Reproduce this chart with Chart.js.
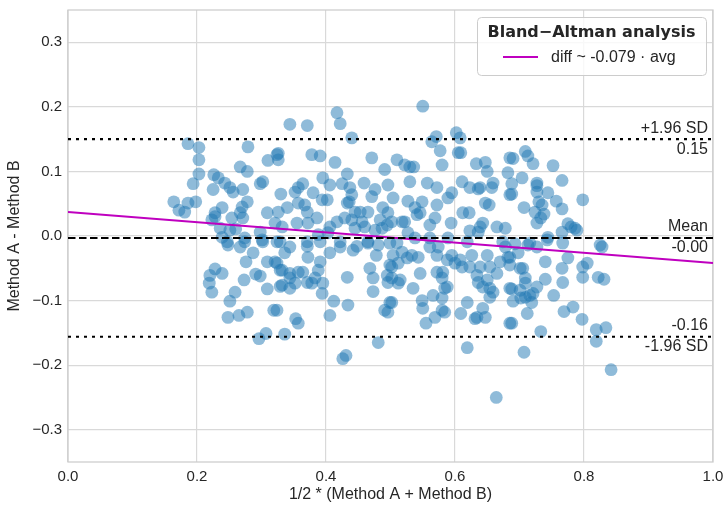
<!DOCTYPE html>
<html>
<head>
<meta charset="utf-8">
<title>Bland-Altman</title>
<script src="https://cdn.jsdelivr.net/npm/chart.js@4.4.1/dist/chart.umd.min.js"></script>
<style>
    html, body { margin: 0; padding: 0; background: #fff; }
    #wrap { width: 727px; height: 505px; }
</style>
</head>
<body>
<div id="wrap"><canvas id="baChart" width="727" height="505"></canvas></div>
<script>
// mean of the two methods (x) and their difference (y)
const avgValues = [
    0.186, 0.203, 0.203, 0.203, 0.194, 0.164, 0.172, 0.181, 0.186, 0.198,
    0.279, 0.310, 0.324, 0.267, 0.278, 0.226, 0.233, 0.225, 0.243, 0.251,
    0.256, 0.271, 0.298, 0.302, 0.278, 0.270, 0.239, 0.228, 0.228, 0.223,
    0.254, 0.267, 0.271, 0.309, 0.326, 0.321, 0.236, 0.251, 0.260, 0.298,
    0.239, 0.247, 0.274, 0.301, 0.324, 0.330, 0.248, 0.267, 0.274, 0.302,
    0.287, 0.276, 0.309, 0.321, 0.329, 0.228, 0.220, 0.239, 0.219, 0.223,
    0.259, 0.273, 0.291, 0.298, 0.309, 0.329, 0.251, 0.248, 0.265, 0.278,
    0.319, 0.307, 0.296,
    0.417, 0.422, 0.344, 0.371, 0.440, 0.326, 0.326, 0.378, 0.391, 0.414,
    0.471, 0.491, 0.433, 0.395, 0.364, 0.357, 0.352, 0.406, 0.425, 0.437,
    0.440, 0.459, 0.476, 0.471, 0.496, 0.380, 0.394, 0.402, 0.433, 0.436,
    0.357, 0.367, 0.371, 0.340, 0.488, 0.504, 0.386, 0.372, 0.355, 0.332,
    0.406, 0.417, 0.429, 0.445, 0.453, 0.465, 0.440, 0.456, 0.460, 0.484,
    0.496, 0.476, 0.487, 0.495, 0.502, 0.445, 0.388, 0.403, 0.422, 0.465,
    0.371, 0.329, 0.344, 0.336, 0.371, 0.391, 0.372, 0.406, 0.422, 0.442,
    0.448, 0.465, 0.481, 0.499, 0.478, 0.504, 0.324, 0.332, 0.344, 0.357,
    0.364, 0.388, 0.391, 0.344, 0.332, 0.344, 0.352, 0.371, 0.378, 0.383,
    0.395, 0.394, 0.433, 0.468, 0.473, 0.495, 0.496, 0.499, 0.473, 0.499,
    0.491, 0.496, 0.412, 0.434, 0.406, 0.324, 0.353, 0.357, 0.336, 0.481,
    0.426, 0.431,
    0.550, 0.571, 0.564, 0.577, 0.602, 0.608, 0.605, 0.609, 0.580, 0.510,
    0.522, 0.530, 0.536, 0.633, 0.647, 0.650, 0.682, 0.685, 0.530, 0.557,
    0.572, 0.611, 0.623, 0.636, 0.639, 0.659, 0.657, 0.527, 0.549, 0.538,
    0.541, 0.546, 0.572, 0.595, 0.589, 0.647, 0.653, 0.685, 0.612, 0.622,
    0.518, 0.522, 0.561, 0.569, 0.594, 0.643, 0.639, 0.636, 0.623, 0.665,
    0.678, 0.527, 0.538, 0.561, 0.589, 0.619, 0.674, 0.510, 0.518, 0.526,
    0.533, 0.543, 0.512, 0.502, 0.561, 0.574, 0.572, 0.588, 0.595, 0.600,
    0.608, 0.611, 0.623, 0.626, 0.639, 0.650, 0.654, 0.670, 0.665, 0.682,
    0.546, 0.572, 0.581, 0.580, 0.634, 0.636, 0.650, 0.643, 0.654, 0.659,
    0.654, 0.515, 0.502, 0.512, 0.584, 0.588, 0.535, 0.566, 0.580, 0.549,
    0.502, 0.550, 0.580, 0.584, 0.619, 0.609, 0.643, 0.631, 0.647, 0.634,
    0.569, 0.555, 0.685, 0.619, 0.664, 0.685,
    0.709, 0.713, 0.721, 0.690, 0.752, 0.704, 0.688, 0.688, 0.727, 0.727,
    0.727, 0.744, 0.766, 0.757, 0.730, 0.735, 0.707, 0.766, 0.724, 0.738,
    0.733, 0.727, 0.798, 0.775, 0.780, 0.786, 0.789, 0.766, 0.744, 0.743,
    0.693, 0.716, 0.767, 0.825, 0.678, 0.698, 0.685, 0.685, 0.701, 0.705,
    0.713, 0.727, 0.775, 0.740, 0.766, 0.798, 0.805, 0.798, 0.828, 0.822,
    0.831, 0.709, 0.709, 0.688, 0.701, 0.727, 0.721, 0.740, 0.767, 0.716,
    0.709, 0.690, 0.719, 0.702, 0.753, 0.769, 0.783, 0.797, 0.712, 0.688,
    0.733, 0.819, 0.834, 0.819, 0.707, 0.842
];
const diffValues = [
    0.143, 0.137, 0.118, 0.096, 0.081, 0.053, 0.040, 0.037, 0.051, 0.053,
    0.138, 0.117, 0.126, 0.107, 0.100, 0.095, 0.090, 0.072, 0.082, 0.075,
    0.068, 0.072, 0.081, 0.084, 0.053, 0.045, 0.044, 0.036, 0.030, 0.025,
    0.028, 0.036, 0.028, 0.036, 0.037, 0.020, 0.012, 0.009, 0.011, 0.006,
    -0.002, -0.009, -0.003, -0.006, -0.009, 0.065, -0.014, -0.017, -0.009, -0.009,
    -0.026, -0.040, -0.040, -0.040, -0.053, -0.051, -0.061, -0.058, -0.073, -0.087,
    -0.087, -0.068, -0.059, -0.062, -0.082, -0.078, -0.101, -0.126, -0.123, -0.118,
    -0.115, -0.151, -0.159,
    0.191, 0.174, 0.173, 0.171, 0.152, 0.128, 0.118, 0.126, 0.124, 0.114,
    0.121, 0.103, 0.096, 0.090, 0.081, 0.075, 0.068, 0.079, 0.081, 0.075,
    0.064, 0.082, 0.072, 0.061, 0.079, 0.067, 0.056, 0.056, 0.051, 0.053,
    0.051, 0.048, 0.037, 0.044, 0.044, 0.059, 0.028, 0.020, 0.020, 0.014,
    0.014, 0.022, 0.028, 0.037, 0.037, 0.037, 0.025, 0.022, 0.014, 0.025,
    0.036, 0.009, 0.012, 0.017, 0.022, 0.012, 0.002, 0.005, -0.009, -0.009,
    -0.009, -0.009, -0.017, -0.026, -0.016, -0.009, -0.033, -0.026, -0.017, -0.022,
    -0.016, -0.011, -0.014, -0.011, -0.030, -0.030, -0.042, -0.053, -0.058, -0.056,
    -0.056, -0.053, -0.040, -0.065, -0.076, -0.081, -0.073, -0.072, -0.073, -0.065,
    -0.073, -0.089, -0.064, -0.050, -0.065, -0.061, -0.072, -0.045, -0.086, -0.103,
    -0.115, -0.118, -0.101, -0.107, -0.123, -0.115, -0.128, -0.135, -0.152, -0.165,
    -0.190, -0.185,
    0.201, 0.154, 0.146, 0.132, 0.160, 0.152, 0.129, 0.129, 0.110, 0.118,
    0.110, 0.107, 0.107, 0.112, 0.114, 0.100, 0.098, 0.121, 0.084, 0.082,
    0.075, 0.084, 0.075, 0.073, 0.075, 0.082, 0.075, 0.054, 0.053, 0.044,
    0.033, 0.036, 0.048, 0.067, 0.059, 0.051, 0.048, 0.064, 0.036, 0.036,
    0.022, 0.022, 0.017, 0.028, 0.020, 0.020, 0.014, 0.006, 0.008, 0.014,
    0.012, 0.005, -0.003, -0.003, -0.003, -0.009, -0.009, -0.011, -0.025, -0.034,
    -0.030, -0.033, -0.042, -0.048, -0.017, -0.017, -0.030, -0.037, -0.030, -0.042,
    -0.037, -0.048, -0.048, -0.030, -0.048, -0.030, -0.048, -0.040, -0.058, -0.033,
    -0.058, -0.056, -0.056, -0.065, -0.061, -0.072, -0.068, -0.079, -0.081, -0.087,
    -0.095, -0.068, -0.065, -0.073, -0.081, -0.079, -0.081, -0.092, -0.096, -0.100,
    -0.103, -0.112, -0.115, -0.118, -0.103, -0.120, -0.112, -0.128, -0.126, -0.126,
    -0.126, -0.135, -0.135, -0.173, -0.250, -0.081,
    0.131, 0.124, 0.112, 0.120, 0.109, 0.090, 0.081, 0.065, 0.082, 0.078,
    0.068, 0.067, 0.086, 0.054, 0.053, 0.048, 0.044, 0.042, 0.037, 0.034,
    0.028, 0.020, 0.056, 0.019, 0.014, 0.012, 0.009, 0.006, -0.002, -0.006,
    -0.012, -0.011, -0.011, -0.014, -0.017, -0.026, -0.033, -0.045, -0.050, -0.050,
    -0.014, -0.017, -0.034, -0.040, -0.050, -0.048, -0.042, -0.064, -0.017, -0.064,
    -0.067, -0.065, -0.073, -0.082, -0.084, -0.079, -0.089, -0.067, -0.072, -0.092,
    -0.095, -0.101, -0.103, -0.096, -0.092, -0.117, -0.110, -0.129, -0.120, -0.135,
    -0.148, -0.145, -0.142, -0.163, -0.180, -0.207
];

const xTicks = [0.0, 0.2, 0.4, 0.6, 0.8, 1.0];
const yTicks = [-0.3, -0.2, -0.1, 0.0, 0.1, 0.2, 0.3];

// limits of agreement and mean difference
const limitValues = [0.150, -0.003, -0.156];
const limitTopLabels = ['+1.96 SD', 'Mean', '-0.16'];
const limitBottomLabels = ['0.15', '-0.00', '-1.96 SD'];

// regression of diff on avg, end points
const regX = [0.0, 1.0];
const regY = [0.037, -0.042];
const regLabel = 'diff ~ -0.079 \u00b7 avg';
const legendTitle = 'Bland\u2212Altman analysis';

const textColor = '#262626';
const gridColor = '#d9d9d9';
const sans = '"Liberation Sans", Arial, sans-serif';

Chart.defaults.font.family = sans;
Chart.defaults.color = textColor;

const points = avgValues.map((x, i) => ({ x: x, y: diffValues[i] }));

function hLine(v) {
    return [{ x: xTicks[0], y: v }, { x: xTicks[xTicks.length - 1], y: v }];
}

const framePlugin = {
    id: 'frame',
    beforeDatasetsDraw(chart) {
        const a = chart.chartArea, ctx = chart.ctx;
        ctx.save();
        ctx.strokeStyle = '#cccccc';
        ctx.lineWidth = 1.25;
        ctx.strokeRect(a.left, a.top, a.right - a.left, a.bottom - a.top);
        ctx.restore();
    }
};

const limitTextPlugin = {
    id: 'limitText',
    afterDatasetsDraw(chart) {
        const ctx = chart.ctx, y = chart.scales.y, a = chart.chartArea;
        ctx.save();
        ctx.font = '16px ' + sans;
        ctx.fillStyle = textColor;
        ctx.textAlign = 'right';
        ctx.textBaseline = 'middle';
        limitValues.forEach((v, i) => {
            const py = y.getPixelForValue(v);
            ctx.fillText(limitTopLabels[i], a.right - 5, py - 11);
            ctx.fillText(limitBottomLabels[i], a.right - 5, py + 10);
        });
        ctx.restore();
    }
};

const legendBoxPlugin = {
    id: 'legendBox',
    afterDraw(chart) {
        const ctx = chart.ctx, a = chart.chartArea;
        const w = 229, h = 58;
        const bx = a.right - 7 - w, by = a.top + 7;
        ctx.save();
        ctx.beginPath();
        ctx.roundRect(bx + 0.5, by + 0.5, w, h, 4);
        ctx.fillStyle = 'rgba(255,255,255,0.8)';
        ctx.fill();
        ctx.strokeStyle = '#cccccc';
        ctx.lineWidth = 1;
        ctx.stroke();

        ctx.fillStyle = textColor;
        ctx.textBaseline = 'middle';
        ctx.textAlign = 'center';
        ctx.font = 'bold 16px "DejaVu Sans", sans-serif';
        ctx.fillText(legendTitle, bx + w / 2, by + 16);

        ctx.strokeStyle = '#bf00bf';
        ctx.lineWidth = 2;
        ctx.beginPath();
        ctx.moveTo(bx + 26, by + 40);
        ctx.lineTo(bx + 61, by + 40);
        ctx.stroke();

        ctx.textAlign = 'left';
        ctx.font = '16px ' + sans;
        ctx.fillText(regLabel, bx + 74, by + 41);
        ctx.restore();
    }
};

new Chart(document.getElementById('baChart'), {
    type: 'scatter',
    data: {
        datasets: [
            {
                label: 'upper',
                data: hLine(limitValues[0]),
                showLine: true,
                borderColor: '#000',
                borderWidth: 2.2,
                borderDash: [3, 5],
                pointRadius: 0,
                order: 0
            },
            {
                label: 'mean',
                data: hLine(limitValues[1]),
                showLine: true,
                borderColor: '#000',
                borderWidth: 2,
                borderDash: [7.5, 3.5],
                pointRadius: 0,
                order: 0
            },
            {
                label: 'lower',
                data: hLine(limitValues[2]),
                showLine: true,
                borderColor: '#000',
                borderWidth: 2.2,
                borderDash: [3, 5],
                pointRadius: 0,
                order: 0
            },
            {
                label: regLabel,
                data: regX.map((x, i) => ({ x: x, y: regY[i] })),
                showLine: true,
                borderColor: '#bf00bf',
                borderWidth: 2,
                pointRadius: 0,
                order: 0
            },
            {
                label: 'pairs',
                data: points,
                backgroundColor: 'rgba(31,119,180,0.5)',
                borderWidth: 0,
                pointRadius: 6.4,
                order: 1
            }
        ]
    },
    options: {
        responsive: false,
        animation: false,
        layout: { padding: { left: 0, right: 14, top: 10, bottom: 0 } },
        plugins: {
            legend: { display: false },
            tooltip: { enabled: false }
        },
        scales: {
            x: {
                type: 'linear',
                min: 0,
                max: 1,
                afterBuildTicks: s => { s.ticks = xTicks.map(v => ({ value: v })); },
                afterFit: s => { s.height = 43; s.paddingLeft = 0; s.paddingRight = 0; },
                ticks: {
                    callback: v => v.toFixed(1),
                    font: { size: 15 },
                    color: textColor,
                    padding: 6
                },
                grid: { color: gridColor, lineWidth: 1.2, drawTicks: false },
                border: { display: false },
                title: {
                    display: true,
                    text: '1/2 * (Method A + Method B)',
                    font: { size: 16 },
                    color: textColor,
                    padding: { top: 0, bottom: 1 }
                }
            },
            y: {
                type: 'linear',
                min: -0.35,
                max: 0.35,
                afterBuildTicks: s => { s.ticks = yTicks.map(v => ({ value: v })); },
                afterFit: s => { s.width = 68; s.paddingTop = 0; s.paddingBottom = 0; },
                ticks: {
                    callback: v => v.toFixed(1).replace('-', '\u2212'),
                    font: { size: 15 },
                    color: textColor,
                    padding: 6
                },
                grid: { color: gridColor, lineWidth: 1.2, drawTicks: false },
                border: { display: false },
                title: {
                    display: true,
                    text: 'Method A - Method B',
                    font: { size: 16 },
                    color: textColor,
                    padding: { top: 5, bottom: 0 }
                }
            }
        }
    },
    plugins: [framePlugin, limitTextPlugin, legendBoxPlugin]
});
</script>
</body>
</html>
